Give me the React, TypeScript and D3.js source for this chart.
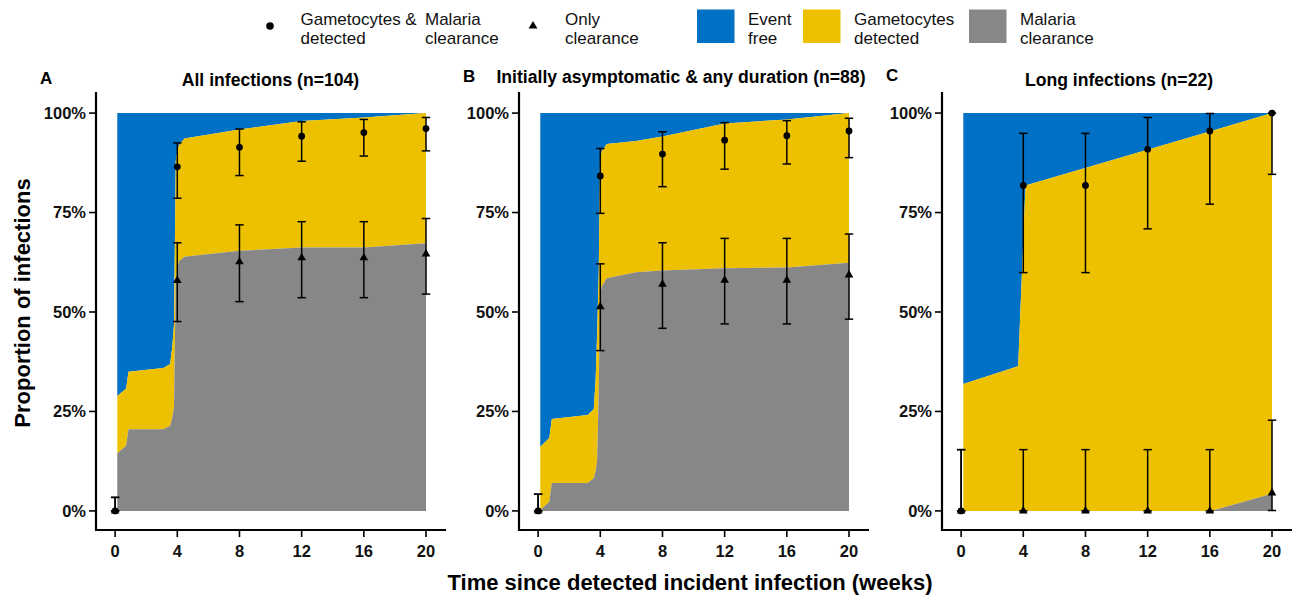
import React from 'react';
import * as d3 from 'd3';

// x positions of the estimates (weeks)
const weeks = [0, 4, 8, 12, 16, 20];
const yTicks = [0, 0.25, 0.5, 0.75, 1];

// panel A - stacked areas (percent)
const aTime = [0.14, 0.71, 0.86, 3.1, 3.54, 3.68, 3.79, 3.9, 4.03, 4.12, 4.46, 8, 12, 16, 20];
const aClear = [14.5, 16.4, 20.5, 20.5, 21.4, 23.5, 26.2, 58.0, 61.4, 62.8, 63.9, 65.4, 66.2, 66.2, 67.3];
const aGam = [28.9, 30.8, 35.0, 35.9, 36.9, 41.3, 47, 88, 91, 92, 93.6, 95.9, 98.0, 98.9, 100];
// panel A - points and error bars
const aDot = [0, 86.5, 91.4, 94.2, 95.1, 96.1];
const aDotLo = [0, 78.6, 84.3, 87.9, 89.2, 90.5];
const aDotHi = [3.4, 92.5, 96.0, 97.8, 98.4, 98.9];
const aTri = [0, 57.9, 62.6, 63.6, 63.6, 64.6];
const aTriLo = [0, 47.6, 52.6, 53.6, 53.6, 54.5];
const aTriHi = [3.4, 67.4, 71.9, 72.7, 72.7, 73.5];

// panel B
const bTime = [0.14, 0.72, 0.88, 3.19, 3.58, 3.7, 3.8, 3.9, 3.98, 4.1, 4.42, 6.3, 8, 12, 16, 20];
const bClear = [0.2, 2.3, 7.0, 7.0, 8.2, 10, 13, 30, 54, 56.5, 58.5, 60.0, 60.4, 61.0, 61.2, 62.4];
const bGam = [16.1, 18.3, 23.1, 24.1, 25.6, 33, 45, 60, 88, 90.5, 92.2, 93.0, 94.1, 97.4, 98.4, 100];
const bDot = [0, 84.2, 89.7, 93.2, 94.3, 95.5];
const bDotLo = [0, 74.8, 81.5, 85.9, 87.2, 88.8];
const bDotHi = [4.2, 91.1, 95.3, 97.6, 98.1, 98.7];
const bTri = [0, 51.3, 57.0, 58.0, 58.0, 59.3];
const bTriLo = [0, 40.3, 45.9, 47.0, 47.0, 48.2];
const bTriHi = [4.2, 62.1, 67.4, 68.5, 68.5, 69.6];

// panel C
const cTime = [0.14, 3.67, 3.75, 4.14, 16.1, 20];
const cClear = [0, 0, 0, 0, 0, 4.3];
const cGam = [31.9, 36.4, 44, 81.8, 95.5, 100];
const cDot = [0, 81.8, 81.8, 90.9, 95.5, 100];
const cDotLo = [0, 59.9, 59.9, 70.9, 77.1, 84.6];
const cDotHi = [15.4, 94.9, 94.9, 98.9, 99.9, 100];
const cTri = [0, 0, 0, 0, 0, 4.5];
const cTriLo = [0, 0, 0, 0, 0, 0.1];
const cTriHi = [15.4, 15.4, 15.4, 15.4, 15.4, 22.8];

const BLUE = '#0071C4';
const YELLOW = '#EDC100';
const GREY = '#878787';
const FONT = '"Liberation Sans", Arial, Helvetica, sans-serif';

const panels = [
  { tag: 'A', title: 'All infections (n=104)', left: 96, titleX: 270.5, titleY: 86, tagY: 84, time: aTime, clear: aClear, gam: aGam,
    dot: aDot, dotLo: aDotLo, dotHi: aDotHi, tri: aTri, triLo: aTriLo, triHi: aTriHi },
  { tag: 'B', title: 'Initially asymptomatic & any duration (n=88)', left: 519, titleX: 681, titleY: 83, tagY: 82, time: bTime, clear: bClear, gam: bGam,
    dot: bDot, dotLo: bDotLo, dotHi: bDotHi, tri: bTri, triLo: bTriLo, triHi: bTriHi },
  { tag: 'C', title: 'Long infections (n=22)', left: 942, titleX: 1119, titleY: 86, tagY: 81, time: cTime, clear: cClear, gam: cGam,
    dot: cDot, dotLo: cDotLo, dotHi: cDotHi, tri: cTri, triLo: cTriLo, triHi: cTriHi },
];

const panelW = 344;
const top = 92;
const bottom = 530;

const y = d3.scaleLinear().domain([-0.048, 1.053]).range([bottom, top]);
const triPath = d3.symbol(d3.symbolTriangle, 32)();
const triLegend = d3.symbol(d3.symbolTriangle, 34)();

const Panel = ({ p }) => {
  const x = d3.scaleLinear().domain([-1.23, 20.9]).range([p.left, p.left + panelW]);
  const rows = p.time.map((t, i) => ({ t, c: p.clear[i] / 100, g: p.gam[i] / 100 }));
  const areaGrey = d3.area().x(d => x(d.t)).y0(y(0)).y1(d => y(d.c));
  const areaYellow = d3.area().x(d => x(d.t)).y0(d => y(d.c)).y1(d => y(d.g));
  const areaBlue = d3.area().x(d => x(d.t)).y0(d => y(d.g)).y1(y(1));
  const bar = (w, lo, hi, k) => {
    const cx = x(w);
    return (
      <g key={k} stroke="#000" strokeWidth={1.5}>
        <line x1={cx} x2={cx} y1={y(lo / 100)} y2={y(hi / 100)} />
        <line x1={cx - 4.2} x2={cx + 4.2} y1={y(lo / 100)} y2={y(lo / 100)} />
        <line x1={cx - 4.2} x2={cx + 4.2} y1={y(hi / 100)} y2={y(hi / 100)} />
      </g>
    );
  };
  return (
    <g>
      <path d={areaBlue(rows)} fill={BLUE} />
      <path d={areaYellow(rows)} fill={YELLOW} />
      <path d={areaGrey(rows)} fill={GREY} />
      {weeks.map((w, i) => bar(w, p.dotLo[i], p.dotHi[i], 'd' + i))}
      {weeks.map((w, i) => bar(w, p.triLo[i], p.triHi[i], 't' + i))}
      {weeks.map((w, i) => (
        <path key={'tp' + i} d={triPath} transform={`translate(${x(w)},${y(p.tri[i] / 100)})`} fill="#000" />
      ))}
      {weeks.map((w, i) => (
        <circle key={'dp' + i} cx={x(w)} cy={y(p.dot[i] / 100)} r={3.4} fill="#000" />
      ))}
      {/* axes */}
      <line x1={p.left} x2={p.left} y1={top} y2={bottom + 1} stroke="#000" strokeWidth={2.2} />
      <line x1={p.left - 1} x2={p.left + panelW + 6} y1={bottom} y2={bottom} stroke="#000" strokeWidth={2.2} />
      {yTicks.map(v => (
        <g key={'y' + v}>
          <line x1={p.left - 7} x2={p.left} y1={y(v)} y2={y(v)} stroke="#000" strokeWidth={1.6} />
          <text x={p.left - 10} y={y(v)} dy="0.36em" textAnchor="end" fontSize={16.5} fontWeight="bold" fill="#111">
            {d3.format('.0%')(v)}
          </text>
        </g>
      ))}
      {weeks.map(w => (
        <g key={'x' + w}>
          <line x1={x(w)} x2={x(w)} y1={bottom} y2={bottom + 7} stroke="#000" strokeWidth={1.6} />
          <text x={x(w)} y={556.5} textAnchor="middle" fontSize={16.5} fontWeight="bold" fill="#111">{w}</text>
        </g>
      ))}
      <text x={p.left - 56} y={p.tagY} fontSize={17} fontWeight="bold">{p.tag}</text>
      <text x={p.titleX} y={p.titleY} textAnchor="middle" fontSize={17.6} fontWeight="bold">{p.title}</text>
    </g>
  );
};

const legendKeys = [
  { fill: BLUE, x: 697, l1: 'Event', l2: 'free', tx: 748 },
  { fill: YELLOW, x: 803, l1: 'Gametocytes', l2: 'detected', tx: 854 },
  { fill: GREY, x: 969, l1: 'Malaria', l2: 'clearance', tx: 1020 },
];

export default function App() {
  return (
    <svg width={1298} height={595} style={{ position: 'absolute', left: 0, top: 0, background: '#fff' }} fontFamily={FONT}>
      <rect width={1298} height={595} fill="#fff" />
      {/* legend */}
      <g fontSize={17} fill="#111">
        <circle cx={270} cy={26} r={3.8} fill="#000" />
        <text x={300.5} y={25}>Gametocytes &amp;</text>
        <text x={300.5} y={43.5}>detected</text>
        <text x={425} y={25}>Malaria</text>
        <text x={425} y={43.5}>clearance</text>
        <path d={triLegend} transform="translate(533,26)" fill="#000" />
        <text x={565} y={25}>Only</text>
        <text x={565} y={43.5}>clearance</text>
        {legendKeys.map(k => (
          <g key={k.l1}>
            <rect x={k.x} y={9.5} width={37.5} height={33.5} fill={k.fill} />
            <text x={k.tx} y={25}>{k.l1}</text>
            <text x={k.tx} y={43.5}>{k.l2}</text>
          </g>
        ))}
      </g>
      {panels.map(p => <Panel key={p.tag} p={p} />)}
      <text transform="translate(29.5,303) rotate(-90)" textAnchor="middle" fontSize={22} fontWeight="bold">
        Proportion of infections
      </text>
      <text x={690} y={590} textAnchor="middle" fontSize={22} fontWeight="bold">
        Time since detected incident infection (weeks)
      </text>
    </svg>
  );
}
